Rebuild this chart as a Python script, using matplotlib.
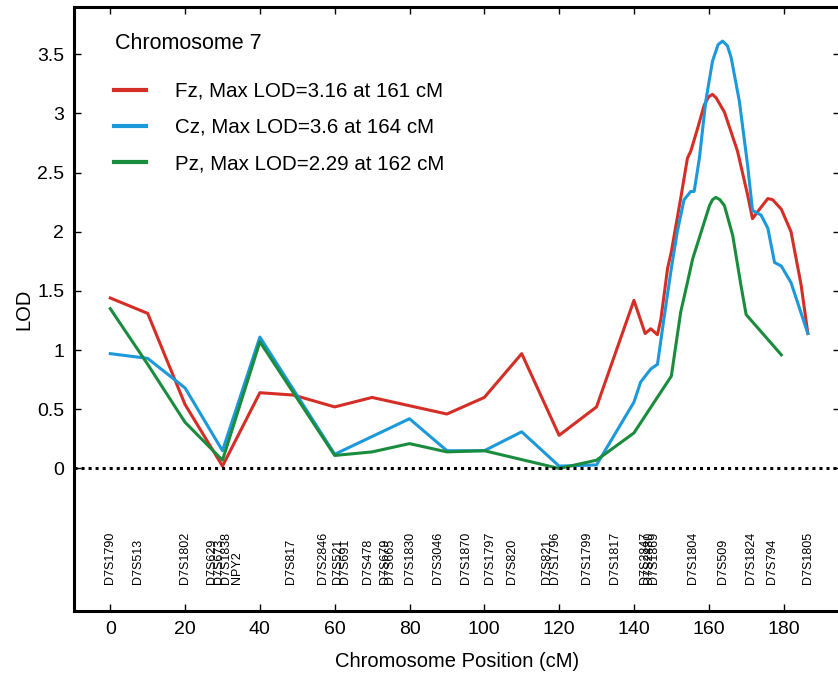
import matplotlib
matplotlib.use('Agg')
import matplotlib.pyplot as plt

plt.rcParams['font.family'] = ['Liberation Sans', 'DejaVu Sans']

# LOD curves (position in cM, LOD)
fz_pos = [0, 10, 20, 30, 40, 49, 60, 70, 80, 90, 100, 110, 120, 130, 140, 143, 144.5,
          146.3, 147.2, 149, 150, 152.5, 154.3, 155.2, 157, 158.8, 160, 161, 162, 164.2,
          167.7, 170.4, 171.7, 173.1, 175.8, 177.1, 179.4, 182, 184.7, 186.5]
fz_lod = [1.44, 1.31, 0.54, 0.02, 0.64, 0.62, 0.52, 0.60, 0.53, 0.46, 0.60, 0.97, 0.28,
          0.52, 1.42, 1.14, 1.18, 1.13, 1.26, 1.69, 1.83, 2.28, 2.62, 2.68, 2.87, 3.07,
          3.14, 3.16, 3.13, 3.01, 2.68, 2.31, 2.11, 2.17, 2.28, 2.27, 2.19, 2.00, 1.55,
          1.14]

cz_pos = [0, 10, 20, 30, 40, 60, 80, 90, 100, 110, 120, 130, 140, 141.8, 144.5, 146.3,
          148, 150, 151.6, 153.4, 155.2, 156.1, 157.5, 159.2, 161, 162.5, 163.7, 165,
          166, 168.2, 170.4, 171.7, 174, 175.8, 177.6, 179.4, 182, 186.5]
cz_lod = [0.97, 0.93, 0.68, 0.15, 1.11, 0.12, 0.42, 0.15, 0.15, 0.31, 0.02, 0.03, 0.56,
          0.73, 0.84, 0.88, 1.26, 1.69, 2.00, 2.27, 2.34, 2.34, 2.62, 3.10, 3.44, 3.58,
          3.61, 3.57, 3.47, 3.10, 2.56, 2.18, 2.14, 2.03, 1.74, 1.71, 1.57, 1.14]

pz_pos = [0, 10, 20, 30, 40, 60, 70, 80, 90, 100, 120, 130, 140, 150, 152.5, 154.3,
          155.7, 158, 160.2, 161, 161.9, 163, 164.2, 166.4, 168.6, 170, 179.4]
pz_lod = [1.35, 0.88, 0.39, 0.07, 1.07, 0.11, 0.14, 0.21, 0.14, 0.15, 0.0, 0.07, 0.30,
          0.78, 1.32, 1.57, 1.77, 2.00, 2.22, 2.27, 2.29, 2.27, 2.22, 1.97, 1.55, 1.30,
          0.96]

labels = ['Fz, Max LOD=3.16 at 161 cM', 'Cz, Max LOD=3.6 at 164 cM',
          'Pz, Max LOD=2.29 at 162 cM']
colors = ['#d42e26', '#1b99da', '#1a8c3e']

# marker names along the chromosome
marker_names = ['D7S1790', 'D7S513', 'D7S1802', 'D7S629', 'D7S673', 'D7S1838', 'NPY2',
                'D7S817', 'D7S2846', 'D7S521', 'D7S691', 'D7S478', 'D7S679', 'D7S665',
                'D7S1830', 'D7S3046', 'D7S1870', 'D7S1797', 'D7S820', 'D7S821',
                'D7S1796', 'D7S1799', 'D7S1817', 'D7S2847', 'D7S2480', 'D7S1869',
                'D7S1804', 'D7S509', 'D7S1824', 'D7S794', 'D7S1805']
marker_pos = [0, 7.5, 20, 27.3, 29, 31, 34, 48.4, 57, 61, 62.7, 69, 73.4, 74.8, 80.2,
              87.5, 95, 101.6, 107.4, 116.8, 119, 127.5, 135, 143, 144.1, 145.4, 155.7,
              163.7, 171.3, 177, 186.5]

fig = plt.figure(figsize=(8.38, 6.73), dpi=100)
ax = fig.add_axes([0.0883, 0.0921, 0.9141, 0.8975])

for pos, lod, lab, col in zip([fz_pos, cz_pos, pz_pos], [fz_lod, cz_lod, pz_lod],
                              labels, colors):
    ax.plot(pos, lod, color=col, lw=2.2, label=lab, solid_joinstyle='round')

ax.axhline(0, color='black', lw=2.2, ls=(0, (1, 1.3)))

for name, p in zip(marker_names, marker_pos):
    ax.text(p, -0.98, name, rotation=90, ha='center', va='bottom', fontsize=9)

ax.set_xlim(-9.7, 195.1)
ax.set_ylim(-1.204, 3.898)
ax.set_xticks(range(0, 181, 20))
yt = [0, 0.5, 1, 1.5, 2, 2.5, 3, 3.5]
ax.set_yticks(yt)
ax.set_yticklabels(['%g' % v for v in yt])
ax.tick_params(direction='in', top=True, right=True, length=5, width=1,
               labelsize=14, pad=7)
for s in ax.spines.values():
    s.set_linewidth(2.2)

ax.set_xlabel('Chromosome Position (cM)', fontsize=14.5, labelpad=10)
ax.set_ylabel('LOD', fontsize=14.5, labelpad=3)

ax.text(0.0535, 0.94, 'Chromosome 7', transform=ax.transAxes, fontsize=15.5,
        ha='left', va='center')
leg = ax.legend(loc='upper left', bbox_to_anchor=(0.0392, 0.893), frameon=False,
                fontsize=14.8, handlelength=1.55, handletextpad=1.42,
                labelspacing=0.83, borderpad=0)
for h in leg.get_lines():
    h.set_linewidth(3)

fig.savefig('out.png', dpi=100)
